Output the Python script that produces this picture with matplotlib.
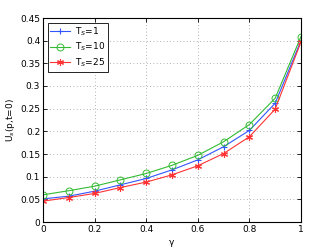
import numpy as np
import matplotlib
matplotlib.use("Agg")
import matplotlib.pyplot as plt

gamma = [0, 0.1, 0.2, 0.3, 0.4, 0.5, 0.6, 0.7, 0.8, 0.9, 1.0]
ts1 = [0.051, 0.057, 0.068, 0.082, 0.096, 0.115, 0.137, 0.166, 0.202, 0.262, 0.400]
ts10 = [0.060, 0.069, 0.079, 0.093, 0.107, 0.125, 0.147, 0.177, 0.215, 0.273, 0.409]
ts25 = [0.046, 0.054, 0.063, 0.076, 0.088, 0.104, 0.124, 0.151, 0.188, 0.249, 0.397]

plt.rcParams["font.size"] = 6.5
fig = plt.figure(figsize=(3.32, 2.5), dpi=100)
ax = fig.add_axes([0.1295, 0.112, 0.777, 0.816])

ax.plot(gamma, ts1, color="#3355ff", marker="+", ms=5, lw=0.8, mew=0.8, label="T$_S$=1")
ax.plot(gamma, ts10, color="#33bb33", marker="o", ms=5, lw=0.8, mew=0.7, mfc="none", label="T$_S$=10")
ax.plot(gamma, ts25, color="#ff3333", marker=(6, 2, 0), ms=5, lw=0.8, mew=0.8, label="T$_S$=25")

ax.set_xlim(0, 1)
ax.set_ylim(0, 0.45)
ax.set_xticks(np.arange(0, 1.01, 0.2))
ax.set_xticklabels(["0", "0.2", "0.4", "0.6", "0.8", "1"])
ax.set_yticks(np.arange(0, 0.451, 0.05))
ax.set_yticklabels(["0", "0.05", "0.1", "0.15", "0.2", "0.25", "0.3", "0.35", "0.4", "0.45"])
ax.grid(True, linestyle=(0, (1, 3)), color="#999999", linewidth=0.6)
ax.tick_params(direction="in", top=True, right=True, length=3, width=0.6, pad=2)
for s in ax.spines.values():
    s.set_linewidth(0.8)
ax.set_xlabel("γ", labelpad=3)
ax.set_ylabel("U$_s$(p,t=0)", labelpad=2)

leg = ax.legend(loc="upper left", fancybox=False, edgecolor="black", framealpha=1,
                handlelength=2.2, handletextpad=0.5, borderpad=0.3, labelspacing=0.35,
                borderaxespad=0.5, fontsize=6.5)
leg.get_frame().set_linewidth(0.6)

fig.savefig("out.png", dpi=100)
